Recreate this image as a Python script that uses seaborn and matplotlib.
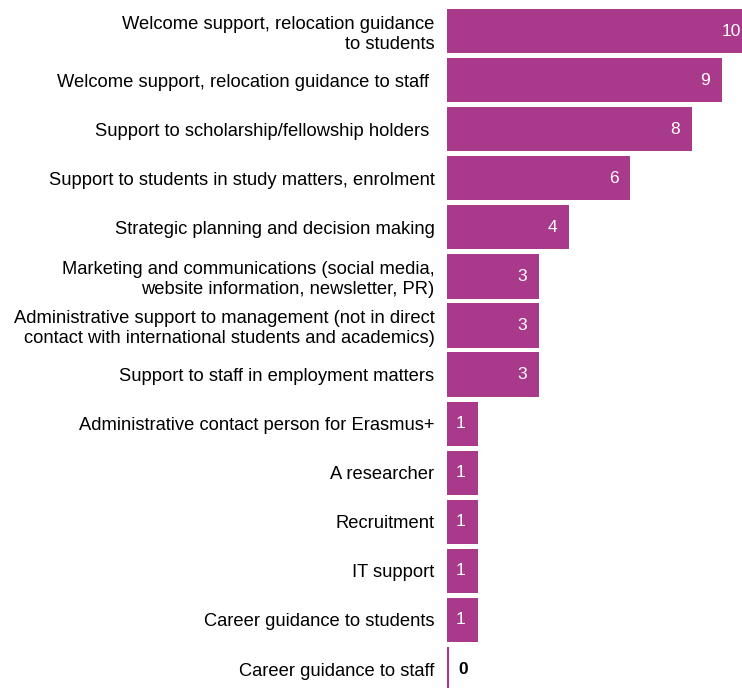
import seaborn as sns
import matplotlib.pyplot as plt
import pandas as pd

categories = [
    "Welcome support, relocation guidance\nto students",
    "Welcome support, relocation guidance to staff ",
    "Support to scholarship/fellowship holders ",
    "Support to students in study matters, enrolment",
    "Strategic planning and decision making",
    "Marketing and communications (social media,\nwebsite information, newsletter, PR)",
    "Administrative support to management (not in direct\ncontact with international students and academics)",
    "Support to staff in employment matters",
    "Administrative contact person for Erasmus+",
    "A researcher",
    "Recruitment",
    "IT support",
    "Career guidance to students",
    "Career guidance to staff",
]
counts = [10, 9, 8, 6, 4, 3, 3, 3, 1, 1, 1, 1, 1, 0]

df = pd.DataFrame({"role": categories, "count": counts})
bar_color = "#A93A8B"

sns.set_style("white")
plt.rcParams["font.family"] = ["Liberation Sans", "DejaVu Sans"]

fig = plt.figure(figsize=(7.42, 6.88), dpi=100)
ax = fig.add_axes([447 / 742, 0, 1 - 447 / 742, 1])

sns.barplot(data=df, x="count", y="role", color=bar_color, saturation=1,
            width=0.9, linewidth=0, ax=ax)

# zero bar still shows as a thin stub
for p, v in zip(ax.patches, counts):
    if v == 0:
        p.set_edgecolor(bar_color)
        p.set_linewidth(3)

for i, v in enumerate(counts):
    if v > 0:
        ax.annotate(str(v), (v, i), xytext=(-12, 0), textcoords="offset pixels",
                    ha="right", va="center", color="white", fontsize=12.5,
                    annotation_clip=False)
    else:
        ax.annotate(str(v), (v, i), xytext=(16, 0), textcoords="offset pixels",
                    ha="center", va="center", color="black", fontsize=12.5,
                    fontweight="bold", annotation_clip=False)

ax.set_xlim(0, 9.65)
ax.set_ylim(13.386, -0.632)
ax.set_xlabel("")
ax.set_ylabel("")
ax.set_xticks([])
ax.tick_params(axis="y", length=0, pad=9, labelsize=13.2, labelcolor="black")
for lbl in ax.get_yticklabels():
    lbl.set_horizontalalignment("right")
sns.despine(ax=ax, left=True, bottom=True)

fig.savefig("out.png", dpi=100)
